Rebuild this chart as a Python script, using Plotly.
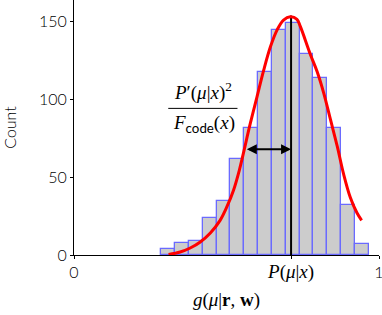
import plotly.graph_objects as go

# ---- data ----
bin_edges = [0.286, 0.331, 0.377, 0.422, 0.468, 0.513, 0.558, 0.604,
             0.649, 0.695, 0.740, 0.785, 0.831, 0.876, 0.922, 0.967]
counts = [4, 8, 9, 24, 35, 62, 82, 118, 145, 149, 129, 114, 82, 32, 7]

curve_x = [0.310, 0.348, 0.381, 0.414, 0.447, 0.479, 0.501, 0.523, 0.542,
           0.578, 0.600, 0.622, 0.644, 0.666, 0.687, 0.709, 0.731, 0.742,
           0.775, 0.797, 0.819, 0.841, 0.863, 0.884, 0.906, 0.928, 0.943]
curve_y = [0.3, 1.9, 4.5, 8.4, 14.2, 22.3, 30.9, 41.7, 54.5,
           84.6, 101.7, 118.9, 133.9, 144.8, 151.1, 153.2, 151.6, 147.0,
           129.0, 118.0, 104.0, 87.0, 70.0, 52.0, 37.0, 27.0, 22.3]

p_mu_x = 0.7117          # position of P(mu|x)
peak_count = 154         # top of the vertical marker
arrow_left = 0.5616      # left end of the width arrow
arrow_level = 68         # count level of the arrow

y_ticks = [0, 50, 100, 150]
x_tick_vals = [0, p_mu_x, 1]

SERIF = "Liberation Serif"
SANS = "Lato"

centers = [(a + b) / 2 for a, b in zip(bin_edges[:-1], bin_edges[1:])]
widths = [b - a for a, b in zip(bin_edges[:-1], bin_edges[1:])]

fig = go.Figure()
fig.add_trace(go.Bar(
    x=centers, y=counts, width=widths,
    marker=dict(color="#cccccc", line=dict(color="#6a6aff", width=1.3)),
    showlegend=False, hoverinfo="skip",
))
fig.add_trace(go.Scatter(
    x=[p_mu_x, p_mu_x], y=[0, peak_count], mode="lines",
    line=dict(color="black", width=2), showlegend=False, hoverinfo="skip",
))
fig.add_trace(go.Scatter(
    x=curve_x, y=curve_y, mode="lines", line_shape="spline",
    line=dict(color="red", width=3), showlegend=False, hoverinfo="skip",
))

# double headed arrow
fig.add_annotation(
    x=p_mu_x, y=arrow_level, ax=arrow_left, ay=arrow_level,
    xref="x", yref="y", axref="x", ayref="y",
    text="", showarrow=True, arrowhead=2, startarrowhead=2,
    arrowside="end+start", arrowwidth=2, arrowsize=1, startarrowsize=1,
    arrowcolor="black",
)

# fraction label
frac_x = 0.422
fig.add_annotation(
    x=frac_x, y=96, xref="x", yref="y", yanchor="bottom",
    text="<i>P</i>\u2032(<i>\u03bc</i>|<i>x</i>)<sup>2</sup>",
    showarrow=False, font=dict(family=SERIF, size=19, color="black", weight=400),
)
fig.add_annotation(
    x=frac_x + 0.004, y=93, xref="x", yref="y", yanchor="top",
    text="<i>F</i><sub><span style='font-family:Lato'>code</span></sub>(<i>x</i>)",
    showarrow=False, font=dict(family=SERIF, size=19, color="black", weight=400),
)
fig.add_shape(type="line", xref="x", yref="y",
              x0=0.309, x1=0.536, y0=94.3, y1=94.3,
              line=dict(color="black", width=1))

fig.update_layout(
    width=382, height=315,
    margin=dict(l=74, r=3, t=0, b=60, autoexpand=False),
    paper_bgcolor="white", plot_bgcolor="white",
    bargap=0,
    font=dict(family=SANS, size=16, color="black", weight=300),
    xaxis=dict(
        range=[0, 1], showgrid=False, zeroline=False, automargin=False,
        showline=True, linecolor="black", linewidth=1,
        ticks="outside", ticklen=3, tickcolor="black",
        ticklabeloverflow="allow",
        tickvals=x_tick_vals,
        ticktext=["0",
                  "<span style='font-family:Liberation Serif;font-size:19px;font-weight:400'><i>P</i>(<i>\u03bc</i>|<i>x</i>)</span>",
                  "1"],
        title=dict(text="<i>g</i>(<i>\u03bc</i>|<b>r</b>, <b>w</b>)",
                   font=dict(family=SERIF, size=19, weight=400), standoff=10),
    ),
    yaxis=dict(
        range=[0, 164], showgrid=False, zeroline=False, automargin=False,
        showline=True, linecolor="black", linewidth=1,
        ticks="outside", ticklen=3, tickcolor="black",
        ticklabeloverflow="allow",
        tickvals=y_ticks,
        title=dict(text="Count", font=dict(family=SANS, size=16, weight=300), standoff=18),
    ),
)

fig.write_html("out.html", post_script="document.body.style.margin='0';",
               config={"displayModeBar": False})
